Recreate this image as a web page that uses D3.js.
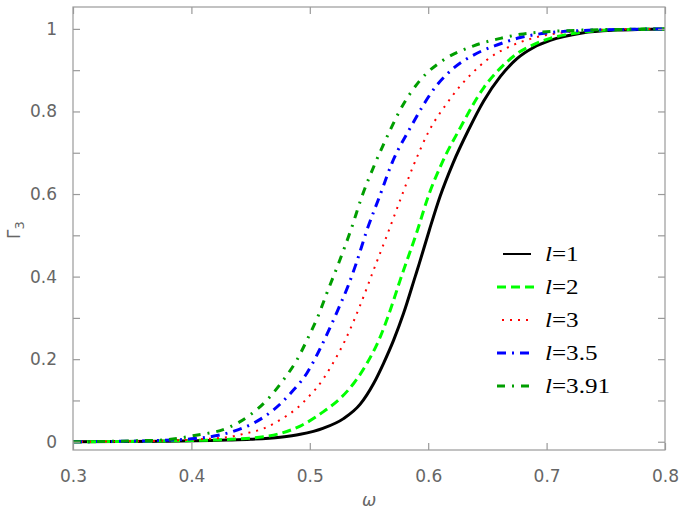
<!DOCTYPE html>
<html>
<head>
<meta charset="utf-8">
<script src="https://cdn.jsdelivr.net/npm/d3@7"></script>
<style>
  body { margin: 0; background: #fff; }
  svg { display: block; }
</style>
</head>
<body>
<svg id="chart"></svg>
<script>
// series: omega values and Gamma_3 values
const omegaL1 = [0.30, 0.38, 0.43, 0.45, 0.475, 0.492, 0.5116, 0.5285, 0.5426, 0.5539, 0.5623, 0.5708, 0.5792, 0.589, 0.5925, 0.601, 0.610, 0.621, 0.634, 0.647, 0.661, 0.675, 0.689, 0.703, 0.73, 0.76, 0.80];
const gammaL1 = [0.000, 0.001, 0.004, 0.006, 0.011, 0.018, 0.033, 0.056, 0.091, 0.141, 0.190, 0.246, 0.311, 0.400, 0.432, 0.513, 0.594, 0.675, 0.755, 0.826, 0.885, 0.928, 0.955, 0.972, 0.990, 0.997, 1.0];

const omegaL2 = [0.30, 0.38, 0.433, 0.461, 0.475, 0.4919, 0.5116, 0.5257, 0.537, 0.5483, 0.5595, 0.568, 0.5764, 0.591, 0.600, 0.6116, 0.627, 0.647, 0.661, 0.675, 0.689, 0.703, 0.73, 0.76, 0.80];
const gammaL2 = [0.000, 0.002, 0.006, 0.012, 0.020, 0.038, 0.073, 0.105, 0.141, 0.190, 0.254, 0.319, 0.392, 0.513, 0.594, 0.675, 0.760, 0.858, 0.905, 0.940, 0.962, 0.977, 0.992, 0.998, 1.0];

const omegaL3 = [0.30, 0.37, 0.40, 0.4327, 0.444, 0.4609, 0.475, 0.4891, 0.5003, 0.5054, 0.5187, 0.5299, 0.5426, 0.5539, 0.5652, 0.5764, 0.5877, 0.6009, 0.6159, 0.6271, 0.6383, 0.6496, 0.6694, 0.689, 0.72, 0.76, 0.80];
const gammaL3 = [0.000, 0.002, 0.005, 0.012, 0.019, 0.032, 0.053, 0.081, 0.113, 0.129, 0.186, 0.246, 0.331, 0.416, 0.500, 0.586, 0.670, 0.754, 0.820, 0.862, 0.896, 0.925, 0.958, 0.978, 0.993, 0.999, 1.0];

const omegaL35 = [0.30, 0.36, 0.40, 0.4341, 0.4524, 0.4693, 0.4849, 0.4975, 0.5074, 0.5162, 0.5243, 0.5327, 0.5392, 0.5483, 0.5589, 0.5694, 0.5848, 0.6074, 0.6215, 0.6412, 0.6581, 0.6778, 0.70, 0.73, 0.77, 0.80];
const gammaL35 = [0.000, 0.002, 0.007, 0.024, 0.045, 0.077, 0.121, 0.166, 0.218, 0.271, 0.323, 0.380, 0.432, 0.513, 0.594, 0.675, 0.760, 0.864, 0.905, 0.941, 0.961, 0.979, 0.990, 0.996, 0.999, 1.0];

const omegaL391 = [0.30, 0.35, 0.38, 0.40, 0.4327, 0.4496, 0.4651, 0.4778, 0.4891, 0.4989, 0.5074, 0.5144, 0.5243, 0.5347, 0.5440, 0.5553, 0.5679, 0.5764, 0.5933, 0.6131, 0.6384, 0.661, 0.678, 0.70, 0.73, 0.77, 0.80];
const gammaL391 = [0.000, 0.002, 0.005, 0.014, 0.036, 0.065, 0.105, 0.150, 0.198, 0.254, 0.307, 0.360, 0.432, 0.513, 0.594, 0.675, 0.755, 0.804, 0.876, 0.925, 0.959, 0.977, 0.987, 0.993, 0.997, 0.999, 1.0];

const legendLabels = ['1', '2', '3', '3.5', '3.91'];
const xTicks = [0.3, 0.4, 0.5, 0.6, 0.7, 0.8];
const yTicks = [0, 0.2, 0.4, 0.6, 0.8, 1];
const yMinorTicks = [0.1, 0.3, 0.5, 0.7, 0.9];

const series = [
  { omega: omegaL1, gamma: gammaL1, color: '#000000', width: 3, dash: null },
  { omega: omegaL2, gamma: gammaL2, color: '#00ff00', width: 3, dash: '9,5' },
  { omega: omegaL3, gamma: gammaL3, color: '#ff0000', width: 2, dash: '2,6' },
  { omega: omegaL35, gamma: gammaL35, color: '#0000ff', width: 3, dash: '9,6,2,6' },
  { omega: omegaL391, gamma: gammaL391, color: '#009e00', width: 3, dash: '8,7,2,7' },
];

const width = 685;
const height = 514;
const margin = { top: 7, right: 20, bottom: 64, left: 73 };

const svg = d3.select('#chart').attr('width', width).attr('height', height);

const x = d3.scaleLinear().domain([0.3, 0.8]).range([margin.left, width - margin.right]);
const y = d3.scaleLinear().domain([-0.02, 1.053]).range([height - margin.bottom, margin.top]);

const frameColor = '#9a9a9a';
const labelColor = '#666666';

svg.append('defs').append('clipPath').attr('id', 'plot-clip')
  .append('rect')
  .attr('x', margin.left)
  .attr('y', margin.top)
  .attr('width', x.range()[1] - margin.left)
  .attr('height', y.range()[0] - margin.top);

// curves
const line = d3.line()
  .x(d => x(d[0]))
  .y(d => y(d[1]))
  .curve(d3.curveMonotoneX);

const curves = svg.append('g').attr('clip-path', 'url(#plot-clip)');
series.forEach(s => {
  curves.append('path')
    .datum(s.omega.map((w, i) => [w, s.gamma[i]]))
    .attr('fill', 'none')
    .attr('stroke', s.color)
    .attr('stroke-width', s.width)
    .attr('stroke-dasharray', s.dash)
    .attr('d', line);
});

// frame
svg.append('rect')
  .attr('x', margin.left)
  .attr('y', margin.top)
  .attr('width', x.range()[1] - margin.left)
  .attr('height', y.range()[0] - margin.top)
  .attr('fill', 'none')
  .attr('stroke', frameColor)
  .attr('stroke-width', 1.2);

const tickLen = 7;

// frame ticks, all pointing inward
const axisBottomG = svg.append('g')
  .attr('transform', `translate(0,${y.range()[0]})`)
  .call(d3.axisBottom(x).tickValues(xTicks).tickSize(-tickLen).tickPadding(tickLen + 13).tickFormat(d3.format('.1f')));
const axisTopG = svg.append('g')
  .attr('transform', `translate(0,${margin.top})`)
  .call(d3.axisTop(x).tickValues(xTicks).tickSize(-tickLen).tickFormat(''));
const axisLeftG = svg.append('g')
  .attr('transform', `translate(${margin.left},0)`)
  .call(d3.axisLeft(y).tickValues(yTicks.concat(yMinorTicks)).tickSize(-tickLen).tickPadding(tickLen + 9)
    .tickFormat(d => (yTicks.includes(d) ? d3.format('~g')(d) : '')));
const axisRightG = svg.append('g')
  .attr('transform', `translate(${x.range()[1]},0)`)
  .call(d3.axisRight(y).tickValues(yTicks.concat(yMinorTicks)).tickSize(-tickLen).tickFormat(''));

[axisBottomG, axisTopG, axisLeftG, axisRightG].forEach(g => {
  g.select('.domain').remove();
  g.selectAll('.tick line').attr('stroke', frameColor).attr('stroke-width', 1.2);
  g.selectAll('.tick text')
    .attr('fill', labelColor)
    .style('font-family', '"DejaVu Sans", sans-serif')
    .style('font-size', '17px');
});

// axis labels
svg.append('text')
  .attr('x', (margin.left + x.range()[1]) / 2)
  .attr('y', 506)
  .attr('text-anchor', 'middle')
  .attr('fill', labelColor)
  .style('font-family', '"DejaVu Sans", sans-serif')
  .style('font-size', '17px')
  .style('font-style', 'italic')
  .text('ω');

const yLabel = svg.append('text')
  .attr('transform', 'translate(20,230) rotate(-90)')
  .attr('text-anchor', 'middle')
  .attr('fill', labelColor)
  .style('font-family', '"DejaVu Sans", sans-serif')
  .style('font-size', '17px');
yLabel.append('tspan').text('Γ');
yLabel.append('tspan').attr('dy', 4).style('font-size', '13px').text('3');

// legend
const legend = svg.append('g').attr('transform', 'translate(497,254)');
series.forEach((s, i) => {
  const row = legend.append('g').attr('transform', `translate(0,${i * 33})`);
  row.append('line')
    .attr('x1', i === 0 ? 6 : i === 2 ? 5 : 0)
    .attr('x2', i === 0 ? 34 : i === 1 ? 40 : i === 2 ? 35 : 36)
    .attr('y1', 0)
    .attr('y2', 0)
    .attr('stroke', s.color)
    .attr('stroke-width', i === 0 ? 2 : s.width)
    .attr('stroke-dasharray', s.dash);
  const label = row.append('text')
    .attr('transform', 'translate(48,7) scale(1.14,1)')
    .style('font-family', '"Liberation Serif", "Times New Roman", serif')
    .style('font-size', '22px')
    .attr('fill', '#000');
  label.append('tspan').style('font-style', 'italic').text('l');
  label.append('tspan').text('=' + legendLabels[i]);
});
</script>
</body>
</html>
